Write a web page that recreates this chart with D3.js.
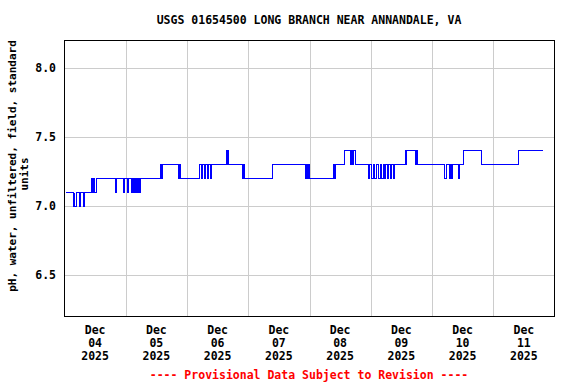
<!DOCTYPE html>
<html>
<head>
<meta charset="utf-8">
<script src="https://cdn.jsdelivr.net/npm/d3@7"></script>
<style>
  html, body { margin: 0; padding: 0; background: #fff; }
  svg { display: block; }
  text { font-family: "DejaVu Sans Mono", monospace; font-weight: bold; }
</style>
</head>
<body>
<script>
// ---- data ----
const titleText = "USGS 01654500 LONG BRANCH NEAR ANNANDALE, VA";
const yLabelLines = ["pH, water, unfiltered, field, standard", "units"];
const footerText = "---- Provisional Data Subject to Revision ----";

const yTicks = [6.5, 7.0, 7.5, 8.0];
const yDomain = [6.2, 8.2];
const xStart = "2025-12-04 00:00";
const xEnd = "2025-12-12 00:00";
const dayTicks = ["2025-12-04", "2025-12-05", "2025-12-06", "2025-12-07",
                  "2025-12-08", "2025-12-09", "2025-12-10", "2025-12-11"];

// step changes of pH (time of reading, value)
const times = [
  "2025-12-04 00:00","2025-12-04 03:10","2025-12-04 03:35","2025-12-04 03:55","2025-12-04 04:20",
  "2025-12-04 05:35","2025-12-04 05:55","2025-12-04 07:05","2025-12-04 07:30","2025-12-04 10:25",
  "2025-12-04 10:45","2025-12-04 11:10","2025-12-04 11:30","2025-12-04 12:10","2025-12-04 19:50",
  "2025-12-04 20:20","2025-12-04 22:50","2025-12-04 23:15",
  "2025-12-05 00:25","2025-12-05 00:50","2025-12-05 02:05","2025-12-05 02:25","2025-12-05 02:50",
  "2025-12-05 03:15","2025-12-05 03:35","2025-12-05 04:00","2025-12-05 04:25","2025-12-05 04:50",
  "2025-12-05 05:10","2025-12-05 05:35","2025-12-05 13:25","2025-12-05 13:45","2025-12-05 14:05",
  "2025-12-05 20:30","2025-12-05 20:50","2025-12-05 21:10",
  "2025-12-06 04:40","2025-12-06 05:20","2025-12-06 05:55","2025-12-06 06:30","2025-12-06 07:00",
  "2025-12-06 07:50","2025-12-06 08:25","2025-12-06 09:00","2025-12-06 09:35","2025-12-06 15:10",
  "2025-12-06 15:30","2025-12-06 15:40","2025-12-06 15:55","2025-12-06 21:30","2025-12-06 21:50",
  "2025-12-06 22:15",
  "2025-12-07 09:10","2025-12-07 22:10","2025-12-07 22:30","2025-12-07 22:55","2025-12-07 23:15",
  "2025-12-07 23:40",
  "2025-12-08 09:15","2025-12-08 09:40","2025-12-08 10:10","2025-12-08 13:35","2025-12-08 15:55",
  "2025-12-08 16:20","2025-12-08 16:50","2025-12-08 17:10","2025-12-08 17:45","2025-12-08 22:50",
  "2025-12-08 23:25",
  "2025-12-09 00:10","2025-12-09 00:50","2025-12-09 01:25","2025-12-09 02:00","2025-12-09 02:55",
  "2025-12-09 03:30","2025-12-09 04:05","2025-12-09 04:40","2025-12-09 05:05","2025-12-09 05:40",
  "2025-12-09 06:20","2025-12-09 06:55","2025-12-09 07:30","2025-12-09 08:00","2025-12-09 08:35",
  "2025-12-09 09:10","2025-12-09 13:20","2025-12-09 13:40","2025-12-09 14:00","2025-12-09 17:20",
  "2025-12-09 17:40","2025-12-09 18:05",
  "2025-12-10 04:35","2025-12-10 05:25","2025-12-10 06:35","2025-12-10 07:00","2025-12-10 07:25",
  "2025-12-10 07:50","2025-12-10 10:05","2025-12-10 10:30","2025-12-10 12:10","2025-12-10 19:05",
  "2025-12-11 09:40","2025-12-11 18:55"
];
const phValues = [
  7.1,7.0,7.1,7.0,7.1,
  7.0,7.1,7.0,7.1,7.2,
  7.1,7.2,7.1,7.2,7.1,
  7.2,7.1,7.2,
  7.1,7.2,7.1,7.2,7.1,
  7.2,7.1,7.2,7.1,7.2,
  7.1,7.2,7.3,7.2,7.3,
  7.2,7.3,7.2,
  7.3,7.2,7.3,7.2,7.3,
  7.2,7.3,7.2,7.3,7.4,
  7.3,7.4,7.3,7.2,7.3,
  7.2,
  7.3,7.2,7.3,7.2,7.3,
  7.2,
  7.3,7.2,7.3,7.4,7.3,
  7.4,7.3,7.4,7.3,7.2,
  7.3,
  7.2,7.3,7.2,7.3,7.2,
  7.3,7.2,7.3,7.2,7.3,
  7.2,7.3,7.2,7.3,7.2,
  7.3,7.4,7.3,7.4,7.3,
  7.4,7.3,
  7.2,7.3,7.2,7.3,7.2,
  7.3,7.2,7.3,7.4,7.3,
  7.4,7.4
];

// ---- drawing ----
const W = 576, H = 384;
const m = { left: 64, right: 22, top: 40, bottom: 68 };
const parse = d3.timeParse("%Y-%m-%d %H:%M");
const parseDay = d3.timeParse("%Y-%m-%d");
const data = times.map((t, i) => ({ t: parse(t), v: phValues[i] }));

const svg = d3.select("body").append("svg").attr("width", W).attr("height", H);

const x = d3.scaleTime().domain([parse(xStart), parse(xEnd)]).range([m.left + 0.5, W - m.right + 0.5]);
const y = d3.scaleLinear().domain(yDomain).range([H - m.bottom, m.top]);

// grid
const grid = svg.append("g").attr("stroke", "#cccccc").attr("stroke-width", 1).attr("shape-rendering", "crispEdges");
grid.selectAll("line.h").data(yTicks).join("line")
  .attr("x1", m.left).attr("x2", W - m.right)
  .attr("y1", d => Math.round(y(d)) + 0.5).attr("y2", d => Math.round(y(d)) + 0.5);
grid.selectAll("line.v").data(dayTicks.slice(1).map(parseDay)).join("line")
  .attr("x1", d => Math.round(x(d)) + 0.5).attr("x2", d => Math.round(x(d)) + 0.5)
  .attr("y1", m.top).attr("y2", H - m.bottom);

// data line
const line = d3.line().x(d => Math.round(x(d.t)) + 0.5).y(d => Math.round(y(d.v)) + 0.5).curve(d3.curveStepAfter);
svg.append("path").datum(data)
  .attr("fill", "none").attr("stroke", "#0000ff").attr("stroke-width", 1)
  .attr("shape-rendering", "crispEdges")
  .attr("d", line);

// frame
svg.append("rect")
  .attr("x", m.left + 0.5).attr("y", m.top + 0.5)
  .attr("width", W - m.left - m.right).attr("height", H - m.top - m.bottom)
  .attr("fill", "none").attr("stroke", "#000").attr("stroke-width", 1)
  .attr("shape-rendering", "crispEdges");

// y axis labels
const yAxis = d3.axisLeft(y).tickValues(yTicks).tickFormat(d3.format(".1f")).tickSize(0).tickPadding(8);
const ya = svg.append("g").attr("transform", `translate(${m.left},0)`).call(yAxis);
ya.select(".domain").remove();
ya.selectAll("text").attr("font-size", 11.5).attr("font-family", "DejaVu Sans Mono")
  .attr("font-weight", "bold").attr("fill", "#000");

// x axis labels (noon of each day)
const fmtMon = d3.timeFormat("%b"), fmtDay = d3.timeFormat("%d"), fmtYr = d3.timeFormat("%Y");
const xl = svg.append("g");
dayTicks.map(parseDay).forEach(d => {
  const cx = x(d3.timeHour.offset(d, 12));
  const t = xl.append("text").attr("text-anchor", "middle").attr("font-size", 11.5).attr("fill", "#000");
  [fmtMon(d), fmtDay(d), fmtYr(d)].forEach((s, i) => {
    t.append("tspan").attr("x", cx).attr("y", 334 + i * 13).text(s);
  });
});

// title
svg.append("text").attr("x", 309).attr("y", 24).attr("text-anchor", "middle")
  .attr("font-size", 11.5).attr("fill", "#000").text(titleText);

// y label
svg.append("text").attr("transform", "translate(16,166) rotate(-90)").attr("text-anchor", "middle")
  .attr("font-size", 11).attr("fill", "#000").text(yLabelLines[0]);
svg.append("text").attr("transform", "translate(28,174) rotate(-90)").attr("text-anchor", "middle")
  .attr("font-size", 11).attr("fill", "#000").text(yLabelLines[1]);

// footer
svg.append("text").attr("x", 309).attr("y", 379).attr("text-anchor", "middle")
  .attr("font-size", 11.5).attr("fill", "#ff0000").text(footerText);
</script>
</body>
</html>
